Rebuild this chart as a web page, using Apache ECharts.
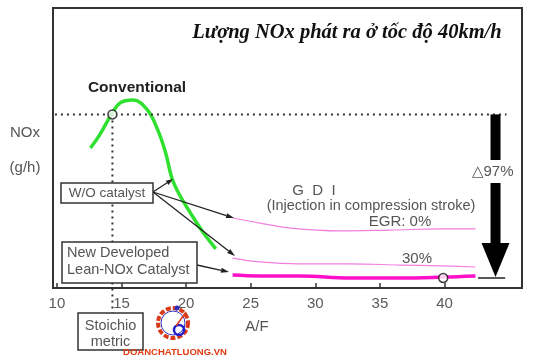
<!DOCTYPE html>
<html><head><meta charset="utf-8">
<script src="https://cdn.jsdelivr.net/npm/echarts@6/dist/echarts.min.js"></script>
<style>html,body{margin:0;padding:0;background:#fff}#c{width:537px;height:358px}</style>
</head><body><div id="c"></div>
<script>
// ---- data (A/F on x, relative NOx on y) ----
const xTicks = [10, 15, 20, 25, 30, 35, 40];
const conventionalAF  = [12.6, 13.3, 14.2, 14.9, 15.9, 17.0, 17.75, 18.4, 18.9, 19.5, 20.3, 21.3, 22.3];
const conventionalNOx = [50.0, 54.6, 61.8, 66.1, 67.1, 63.6, 57.1, 48.6, 39.3, 33.2, 27.1, 20.0, 14.0];
const egr0AF  = [23.6, 25.7, 28.1, 31.9, 35.8, 39.7, 42.4];
const egr0NOx = [25.0, 23.2, 21.4, 20.4, 20.7, 21.1, 21.1];
const egr30AF  = [23.6, 25.7, 28.8, 32.7, 36.6, 39.7, 42.4];
const egr30NOx = [10.7, 9.3, 8.6, 8.6, 8.2, 7.9, 7.5];
const leanAF  = [23.6, 25.7, 28.8, 32.7, 36.6, 39.9, 42.4];
const leanNOx = [4.6, 4.3, 4.3, 3.6, 3.6, 3.9, 4.3];
const tailAF  = [42.6, 44.7];
const tailNOx = [3.6, 3.6];
const circleAF  = [14.3, 39.9];
const circleNOx = [62.0, 3.6];
const stoichAF = 14.3, conventionalLevel = 62.0, reductionArrowAF = 43.95, reductionEnd = 3.9;

const zip = (a, b) => a.map((v, i) => [v, b[i]]);
const chart = echarts.init(document.getElementById('c'));
const F = '"Liberation Sans", Arial, sans-serif';
chart.setOption({
  animation: false,
  grid: {left: 53, top: 8, right: 15, bottom: 70, show: true, borderColor: '#333', borderWidth: 2, backgroundColor: 'transparent'},
  xAxis: {type: 'value', min: 9.7, max: 46,
    axisLine: {show: true, lineStyle: {color: '#333', width: 2}},
    axisTick: {show: true, inside: true, length: 5, customValues: xTicks, lineStyle: {color: '#333', width: 1.5}},
    axisLabel: {customValues: xTicks, color: '#5a5a5a', fontFamily: F, fontSize: 15, margin: 8},
    splitLine: {show: false}},
  yAxis: {type: 'value', min: 0, max: 100, axisLine: {show: true, lineStyle: {color: '#333', width: 2}},
    axisTick: {show: false}, axisLabel: {show: false}, splitLine: {show: false}},
  series: [
    {type: 'line', data: zip(conventionalAF, conventionalNOx), smooth: 0.4, symbol: 'none', lineStyle: {color: '#2fe02f', width: 3.5}, z: 3},
    {type: 'line', data: zip(egr0AF, egr0NOx), smooth: 0.4, symbol: 'none', lineStyle: {color: '#f27fe0', width: 1.2}, z: 3},
    {type: 'line', data: zip(egr30AF, egr30NOx), smooth: 0.4, symbol: 'none', lineStyle: {color: '#f27fe0', width: 1.2}, z: 3},
    {type: 'line', data: zip(leanAF, leanNOx), smooth: 0.4, symbol: 'none', lineStyle: {color: '#ff10c8', width: 3.5}, z: 3},
    {type: 'line', data: zip(tailAF, tailNOx), symbol: 'none', lineStyle: {color: '#222', width: 1.5}, z: 3},
    {type: 'scatter', data: zip(circleAF, circleNOx), symbol: 'circle', symbolSize: 9, itemStyle: {color: '#fff', borderColor: '#111', borderWidth: 1.5}, z: 6}
  ]
});

const P = (x, y) => chart.convertToPixel({gridIndex: 0}, [x, y]);
const g = [];
const txt = (x, y, s, o) => g.push({type: 'text', x, y, z: 20, style: Object.assign({text: s, fill: '#555', font: '15px ' + F, align: 'center', verticalAlign: 'middle'}, o || {})});
function arrow(x1, y1, x2, y2, color, w, hl, hw) {
  const a = Math.atan2(y2 - y1, x2 - x1);
  const bx = x2 - hl * Math.cos(a), by = y2 - hl * Math.sin(a);
  g.push({type: 'line', shape: {x1, y1, x2: bx, y2: by}, style: {stroke: color, lineWidth: w}, z: 15});
  g.push({type: 'polygon', shape: {points: [[x2, y2], [bx + hw * Math.sin(a), by - hw * Math.cos(a)], [bx - hw * Math.sin(a), by + hw * Math.cos(a)]]}, style: {fill: color}, z: 15});
}
// dotted reference lines
const pc = P(stoichAF, conventionalLevel);
const pl = P(9.85, conventionalLevel), pr = P(44.8, conventionalLevel);
g.push({type: 'line', shape: {x1: pl[0], y1: pc[1], x2: pr[0], y2: pc[1]}, style: {stroke: '#333', lineWidth: 2, lineDash: [2, 4]}, z: 4});
g.push({type: 'line', shape: {x1: pc[0], y1: pc[1], x2: pc[0], y2: 313}, style: {stroke: '#333', lineWidth: 2, lineDash: [2, 4]}, z: 4});
// big reduction arrow
const at = P(reductionArrowAF, conventionalLevel), ab = P(reductionArrowAF, reductionEnd);
g.push({type: 'rect', shape: {x: at[0] - 5, y: at[1], width: 10, height: 160 - at[1]}, style: {fill: '#000'}, z: 15});
g.push({type: 'rect', shape: {x: at[0] - 5, y: 183, width: 10, height: 243 - 183}, style: {fill: '#000'}, z: 15});
g.push({type: 'polygon', shape: {points: [[at[0] - 14, 243], [at[0] + 14, 243], [at[0], ab[1]]]}, style: {fill: '#000'}, z: 15});
txt(at[0] - 3, 172, '\u25B397%', {font: '15px ' + F});
// boxes
const box = (x, y, w, h) => g.push({type: 'rect', shape: {x, y, width: w, height: h}, style: {fill: '#fff', stroke: '#333', lineWidth: 1.5}, z: 18});
box(61, 183, 92, 20); txt(107, 193.5, 'W/O catalyst', {font: '13.5px ' + F});
box(62, 242, 135, 41);
txt(67, 253, 'New Developed', {align: 'left', font: '14.5px ' + F});
txt(67, 270, 'Lean-NOx Catalyst', {align: 'left', font: '14.5px ' + F});
box(78, 313, 65, 37); txt(110.5, 326, 'Stoichio', {font: '14.5px ' + F}); txt(110.5, 342, 'metric', {font: '14.5px ' + F});
// annotation arrows
arrow(153, 192, 173, 179, '#222', 1.3, 7, 2.5);
arrow(153, 192, 234, 218, '#222', 1.3, 8, 2.5);
arrow(153, 192, 235, 256, '#222', 1.3, 8, 2.5);
arrow(197, 265, 229, 272, '#222', 1.3, 8, 2.5);
// texts
txt(137, 88, 'Conventional', {font: 'bold 15.5px ' + F, fill: '#222'});
txt(25, 133, 'NOx');
txt(25, 168, '(g/h)');
txt(314, 191, 'G  D  I');
txt(371, 206, '(Injection in compression stroke)', {font: '14.5px ' + F});
txt(400, 222, 'EGR: 0%');
txt(417, 259, '30%');
txt(257, 327, 'A/F');
txt(347, 33, 'L\u01B0\u1EE3ng NOx ph\u00E1t ra \u1EDF t\u1ED1c \u0111\u1ED9 40km/h', {font: 'italic bold 20.5px "Liberation Serif", "Times New Roman", serif', fill: '#111'});
// watermark logo
g.push({type: 'circle', shape: {cx: 173, cy: 323, r: 15}, style: {fill: 'none', stroke: '#d83a1a', lineWidth: 4, lineDash: [5, 2]}, z: 12});
g.push({type: 'circle', shape: {cx: 173, cy: 323, r: 12}, style: {fill: 'none', stroke: '#3030c0', lineWidth: 1}, z: 12});
g.push({type: 'circle', shape: {cx: 179, cy: 330, r: 5}, style: {fill: 'none', stroke: '#2020d0', lineWidth: 2.5}, z: 13});
g.push({type: 'line', shape: {x1: 176, y1: 326, x2: 186, y2: 312}, style: {stroke: '#d83a1a', lineWidth: 1.5}, z: 13});
g.push({type: 'circle', shape: {cx: 177, cy: 308, r: 2.5}, style: {fill: '#3030c0'}, z: 13});
txt(175, 352, 'DOANCHATLUONG.VN', {font: 'bold 9.5px ' + F, fill: '#e03a10'});
chart.setOption({graphic: g});
</script></body></html>
